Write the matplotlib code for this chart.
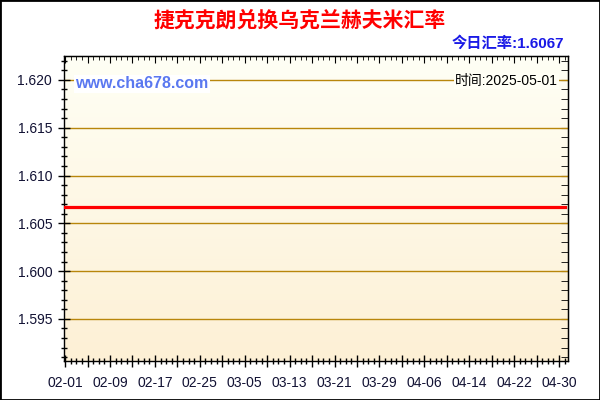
import numpy as np
import pandas as pd
import matplotlib
matplotlib.use('Agg')
import matplotlib.pyplot as plt
import matplotlib.dates as mdates
from matplotlib.ticker import FixedLocator, MultipleLocator, FuncFormatter
from matplotlib.patches import Rectangle

plt.rcParams['font.family'] = ['Liberation Sans', 'Noto Sans CJK SC', 'DejaVu Sans']

# data: CZK -> UAH daily rate, 2025-02-01 .. 2025-05-01
dates = pd.date_range('2025-02-01', '2025-05-01', freq='D')
rates = [
    1.6067, 1.6067, 1.6067, 1.6067, 1.6067, 1.6067, 1.6067, 1.6067, 1.6067, 1.6067,
    1.6067, 1.6067, 1.6067, 1.6067, 1.6067, 1.6067, 1.6067, 1.6067, 1.6067, 1.6067,
    1.6067, 1.6067, 1.6067, 1.6067, 1.6067, 1.6067, 1.6067, 1.6067, 1.6067, 1.6067,
    1.6067, 1.6067, 1.6067, 1.6067, 1.6067, 1.6067, 1.6067, 1.6067, 1.6067, 1.6067,
    1.6067, 1.6067, 1.6067, 1.6067, 1.6067, 1.6067, 1.6067, 1.6067, 1.6067, 1.6067,
    1.6067, 1.6067, 1.6067, 1.6067, 1.6067, 1.6067, 1.6067, 1.6067, 1.6067, 1.6067,
    1.6067, 1.6067, 1.6067, 1.6067, 1.6067, 1.6067, 1.6067, 1.6067, 1.6067, 1.6067,
    1.6067, 1.6067, 1.6067, 1.6067, 1.6067, 1.6067, 1.6067, 1.6067, 1.6067, 1.6067,
    1.6067, 1.6067, 1.6067, 1.6067, 1.6067, 1.6067, 1.6067, 1.6067, 1.6067, 1.6067,
]
title = '捷克克朗兑换乌克兰赫夫米汇率'
today_rate = '今日汇率:1.6067'
stamp = '时间:2025-05-01'
site = 'www.cha678.com'

x = mdates.date2num(dates)

fig = plt.figure(figsize=(6, 4), dpi=100)
fig.patch.set_facecolor('white')
ax = fig.add_axes([64/600, 39/400, 504/600, 305/400])

# gradient background
grad = np.linspace(0, 1, 256).reshape(-1, 1)
top_c = np.array([255, 255, 245]) / 255
bot_c = np.array([253, 240, 213]) / 255
img = top_c + (bot_c - top_c) * grad[:, :, None]
ax.imshow(img, extent=[0, 1, 0, 1], transform=ax.transAxes, aspect='auto', zorder=0)

ax.plot(x, rates, color='#FF0000', lw=2.3, zorder=3)

ax.set_xlim(x[0] - 0.2, x[-1] + 0.6)
ax.set_ylim(1.5906, 1.6225)

# y axis
ax.yaxis.set_major_locator(MultipleLocator(0.005))
ax.yaxis.set_minor_locator(MultipleLocator(0.001))
ax.yaxis.set_major_formatter(FuncFormatter(lambda v, p: f'{v:.3f}'))
ax.grid(axis='y', which='major', color='#B8860B', lw=1.0, zorder=1)

# x axis: tall ticks every 4 days, labels every 8 days, small ticks daily
ax.xaxis.set_major_locator(FixedLocator(x[::4]))
ax.xaxis.set_minor_locator(FixedLocator(x))
labels = [d.strftime('%m-%d') if i % 2 == 0 else '' for i, d in enumerate(dates[::4])]
ax.set_xticklabels(labels)

ax.tick_params(axis='both', which='major', direction='inout', length=9, width=1, labelsize=10, colors='black')
ax.tick_params(axis='both', which='minor', direction='inout', length=5, width=1)
ax.tick_params(axis='x', pad=6)
ax.tick_params(axis='y', pad=4)
for lab in ax.get_xticklabels() + ax.get_yticklabels():
    lab.set_color('#111133')

for s in ax.spines.values():
    s.set_color('black')
    s.set_linewidth(1)

# top and right ticks pointing inward
top = ax.secondary_xaxis('top')
top.xaxis.set_major_locator(FixedLocator(x[::4]))
top.xaxis.set_minor_locator(FixedLocator(x))
top.tick_params(which='major', direction='in', length=5, labeltop=False)
top.tick_params(which='minor', direction='in', length=3)
right = ax.secondary_yaxis('right')
right.yaxis.set_major_locator(MultipleLocator(0.005))
right.yaxis.set_minor_locator(MultipleLocator(0.001))
right.tick_params(which='major', direction='in', length=5, labelright=False)
right.tick_params(which='minor', direction='in', length=5)

# texts
fig.text(0.5, 1 - 20/400, title, ha='center', va='center', color='#FF0000',
         fontsize=15, fontweight='bold')
fig.text(564/600, 1 - 43/400, today_rate, ha='right', va='center', color='#1A1AE6',
         fontsize=11, fontweight='bold')
ax.text(75/600, 1 - 84/400, site, transform=fig.transFigure, ha='left', va='center',
        color='#5A78F0', fontsize=11.5, fontweight='bold', zorder=5,
        bbox=dict(facecolor='white', edgecolor='none', pad=1))
ax.text(558/600, 1 - 81/400, stamp, transform=fig.transFigure, ha='right', va='center',
        color='black', fontsize=10, zorder=5,
        bbox=dict(facecolor='#FFFFF5', edgecolor='none', pad=1))

fig.patches.append(Rectangle((0, 0), 1, 1, transform=fig.transFigure, fill=False,
                             edgecolor='black', lw=2))

fig.savefig('out.png', dpi=100)
